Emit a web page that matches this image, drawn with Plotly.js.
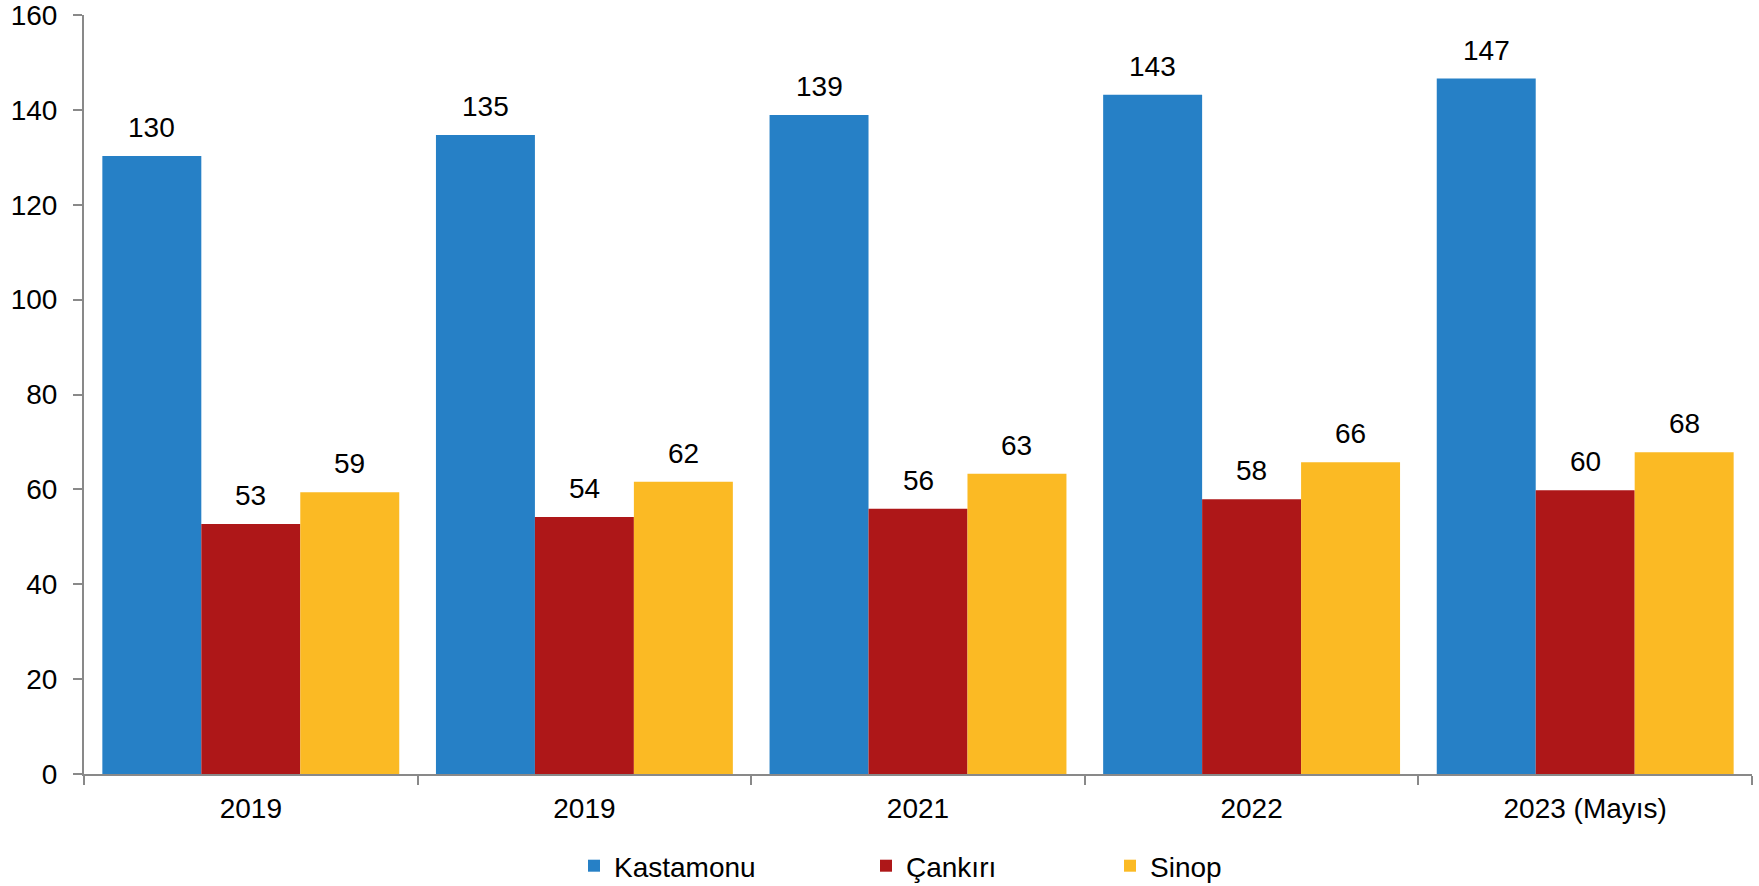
<!DOCTYPE html>
<html>
<head>
<meta charset="utf-8">
<script src="https://cdn.plot.ly/plotly-3.0.1.min.js"></script>
<style>html,body{margin:0;padding:0;background:#fff;}#chart{width:1759px;height:886px;}</style>
</head>
<body>
<div id="chart"></div>
<script>
const categories = ["2019", "2019", "2021", "2022", "2023 (Mayıs)"];
const seriesNames = ["Kastamonu", "Çankırı", "Sinop"];
const kastamonu = [130.3, 134.7, 138.9, 143.2, 146.6];
const cankiri = [52.7, 54.2, 55.9, 57.9, 59.8];
const sinop = [59.4, 61.6, 63.3, 65.7, 67.8];
const colors = ["#2680C6", "#AE1718", "#FBBA24"];

const FONT = "Liberation Sans, Arial, sans-serif";
const series = [kastamonu, cankiri, sinop];
const catIds = categories.map((c, i) => "c" + i);
const bargap = 0.11;
const barW = (1 - bargap) / series.length;
const legendIds = ["legend", "legend2", "legend3"];
const legendX = [574, 866, 1110];

const traces = series.map((vals, j) => ({
  type: "bar",
  name: seriesNames[j],
  x: catIds,
  y: vals,
  legend: legendIds[j],
  marker: { color: colors[j], line: { width: 0 } },
  hoverinfo: "skip"
}));

const annotations = [];
series.forEach((vals, j) => {
  vals.forEach((v, i) => {
    annotations.push({
      x: i + (j - (series.length - 1) / 2) * barW,
      y: v,
      xref: "x", yref: "y",
      text: String(Math.round(v)),
      showarrow: false,
      yanchor: "bottom",
      yshift: 11,
      font: { family: FONT, size: 28, color: "#000" }
    });
  });
});

const layout = {
  width: 1759, height: 886,
  margin: { l: 84, r: 7, t: 15, b: 112 },
  paper_bgcolor: "#fff", plot_bgcolor: "#fff",
  barmode: "group", bargap: bargap, bargroupgap: 0,
  font: { family: FONT, size: 28, color: "#000" },
  xaxis: {
    type: "category",
    tickmode: "array", tickvals: catIds, ticktext: categories,
    range: [-0.5, categories.length - 0.5],
    showline: true, linecolor: "#898989", linewidth: 2,
    ticks: "outside", tickson: "boundaries", ticklen: 9, tickcolor: "#898989", tickwidth: 2,
    showgrid: false, zeroline: false,
    tickfont: { size: 28, color: "#000" },
    ticklabelstandoff: 8
  },
  yaxis: {
    range: [0, 160], dtick: 20, tick0: 0,
    showline: true, linecolor: "#898989", linewidth: 2,
    ticks: "outside", ticklen: 9, tickcolor: "#898989", tickwidth: 2,
    showgrid: false, zeroline: false,
    tickfont: { size: 28, color: "#000" },
    ticklabelstandoff: 10,
    ticklabeloverflow: "allow"
  },
  showlegend: true,
  annotations: annotations
};
legendIds.forEach((id, j) => {
  layout[id] = {
    orientation: "h", xref: "container", yref: "container",
    x: legendX[j] / 1759, xanchor: "left",
    y: 1 - 866 / 886, yanchor: "middle",
    font: { size: 28, color: "#000", family: FONT },
    bgcolor: "rgba(0,0,0,0)", itemwidth: 30
  };
});

Plotly.newPlot("chart", traces, layout, { displayModeBar: false, staticPlot: true });
</script>
</body>
</html>
